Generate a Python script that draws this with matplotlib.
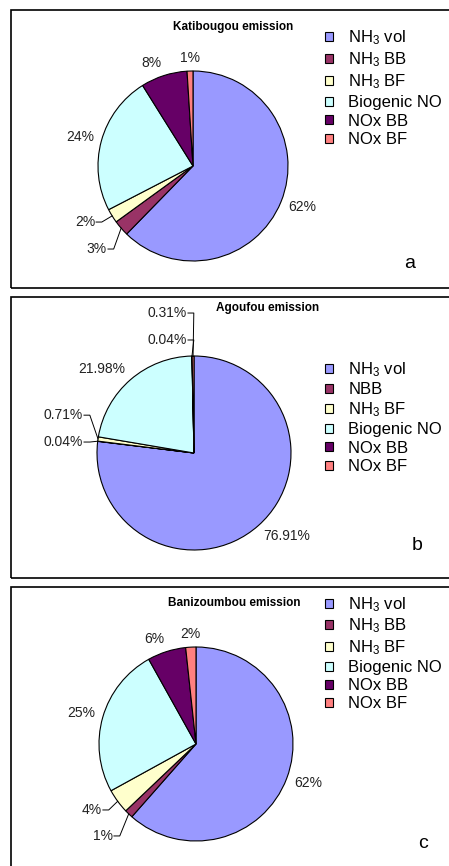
import matplotlib
matplotlib.use('Agg')
import matplotlib.pyplot as plt
import numpy as np
from matplotlib.patches import Rectangle

plt.rcParams['font.family'] = ['Liberation Sans', 'DejaVu Sans']
plt.rcParams['mathtext.fontset'] = 'custom'
plt.rcParams['mathtext.rm'] = 'Liberation Sans'
plt.rcParams['mathtext.it'] = 'Liberation Sans:italic'
plt.rcParams['mathtext.bf'] = 'Liberation Sans:bold'

# ---------------- data ----------------
sources = ['NH$_3$ vol', 'NH$_3$ BB', 'NH$_3$ BF', 'Biogenic NO', 'NOx BB', 'NOx BF']
sources_b = ['NH$_3$ vol', 'NBB', 'NH$_3$ BF', 'Biogenic NO', 'NOx BB', 'NOx BF']
colors = ['#9999FF', '#993366', '#FFFFCC', '#CCFFFF', '#660066', '#FF8080']

katibougou = [62.3, 2.7, 2.4, 23.7, 7.9, 1.0]
agoufou = [76.91, 0.04, 0.71, 21.98, 0.04, 0.31]
banizoumbou = [61.5, 1.4, 4.1, 24.9, 6.4, 1.7]

# ---------------- layout (pixels) ----------------
W, H = 449, 866
def fx(px):
    return px / W
def fy(py):
    return 1 - py / H

panels = [
    dict(values=katibougou, labels=sources, title='Katibougou emission', letter='a',
         fmt='{:.0f}%', center=(193, 166), radius=95, box=(10.5, 288),
         title_xy=(233, 27), legend_top=28, spacing=0.22, letter_xy=(410, 263),
         leaders={1: (-0.905, -0.874), 2: (-1.03, -0.59)}),
    dict(values=agoufou, labels=sources_b, title='Agoufou emission', letter='b',
         fmt='{:.2f}%', center=(194, 453), radius=97, box=(297, 578),
         title_xy=(268, 308), legend_top=360, spacing=0.2, letter_xy=(417, 545),
         leaders={1: (-1.144, 0.113), 2: (-1.144, 0.39),
                  4: (-0.072, 1.165), 5: (-0.072, 1.443)}),
    dict(values=banizoumbou, labels=sources, title='Banizoumbou emission', letter='c',
         fmt='{:.0f}%', center=(196, 744), radius=97, box=(587, H + 10),
         title_xy=(234, 603), legend_top=595, spacing=0.18, letter_xy=(423, 843),
         leaders={1: (-0.856, -0.948), 2: (-0.97, -0.68)}),
]

fig = plt.figure(figsize=(W / 100, H / 100), dpi=100)
span = 1.6

for p in panels:
    cx, cy = p['center']
    r = p['radius']
    ax = fig.add_axes([fx(cx - span * r), fy(cy + span * r),
                       2 * span * r / W, 2 * span * r / H])
    wedges, _ = ax.pie(p['values'], colors=colors, startangle=90, counterclock=False,
                       radius=1, wedgeprops=dict(edgecolor='black', linewidth=0.8))
    ax.set_xlim(-span, span)
    ax.set_ylim(-span, span)
    ax.axis('off')

    for i, w in enumerate(wedges):
        txt = p['fmt'].format(p['values'][i])
        ang = np.deg2rad((w.theta1 + w.theta2) / 2)
        dx, dy = np.cos(ang), np.sin(ang)
        if i in p['leaders']:
            # small slices get a label off to the side with a leader line
            tx, ty = p['leaders'][i]
            ax.text(tx, ty, txt, ha='right', va='center', fontsize=10, color='#222222')
            ax.plot([tx + 0.01, tx + 0.07, dx], [ty, ty, dy], color='black', lw=0.7,
                    clip_on=False)
        else:
            ha = 'center' if abs(dx) < 0.1 else ('left' if dx > 0 else 'right')
            ax.text(1.08 * dx, 1.14 * dy, txt, ha=ha, va='center', fontsize=10,
                    color='#222222')

    fig.text(fx(p['title_xy'][0]), fy(p['title_xy'][1]), p['title'], ha='center',
             va='center', fontsize=8.5, fontweight='bold')
    fig.text(fx(p['letter_xy'][0]), fy(p['letter_xy'][1]), p['letter'], ha='center',
             va='center', fontsize=14)
    fig.legend(wedges, p['labels'], loc='upper left',
               bbox_to_anchor=(fx(325), fy(p['legend_top'])), frameon=False,
               fontsize=12, handlelength=0.45, handleheight=0.45, handletextpad=0.95,
               labelspacing=p['spacing'], borderpad=0, borderaxespad=0)

    top, bottom = p['box']
    fig.add_artist(Rectangle((fx(10.5), fy(bottom)), (W + 10 - 10.5) / W,
                             (bottom - top) / H, transform=fig.transFigure,
                             fill=False, edgecolor='black', lw=1.2, clip_on=False))

plt.savefig('out.png', dpi=100)
